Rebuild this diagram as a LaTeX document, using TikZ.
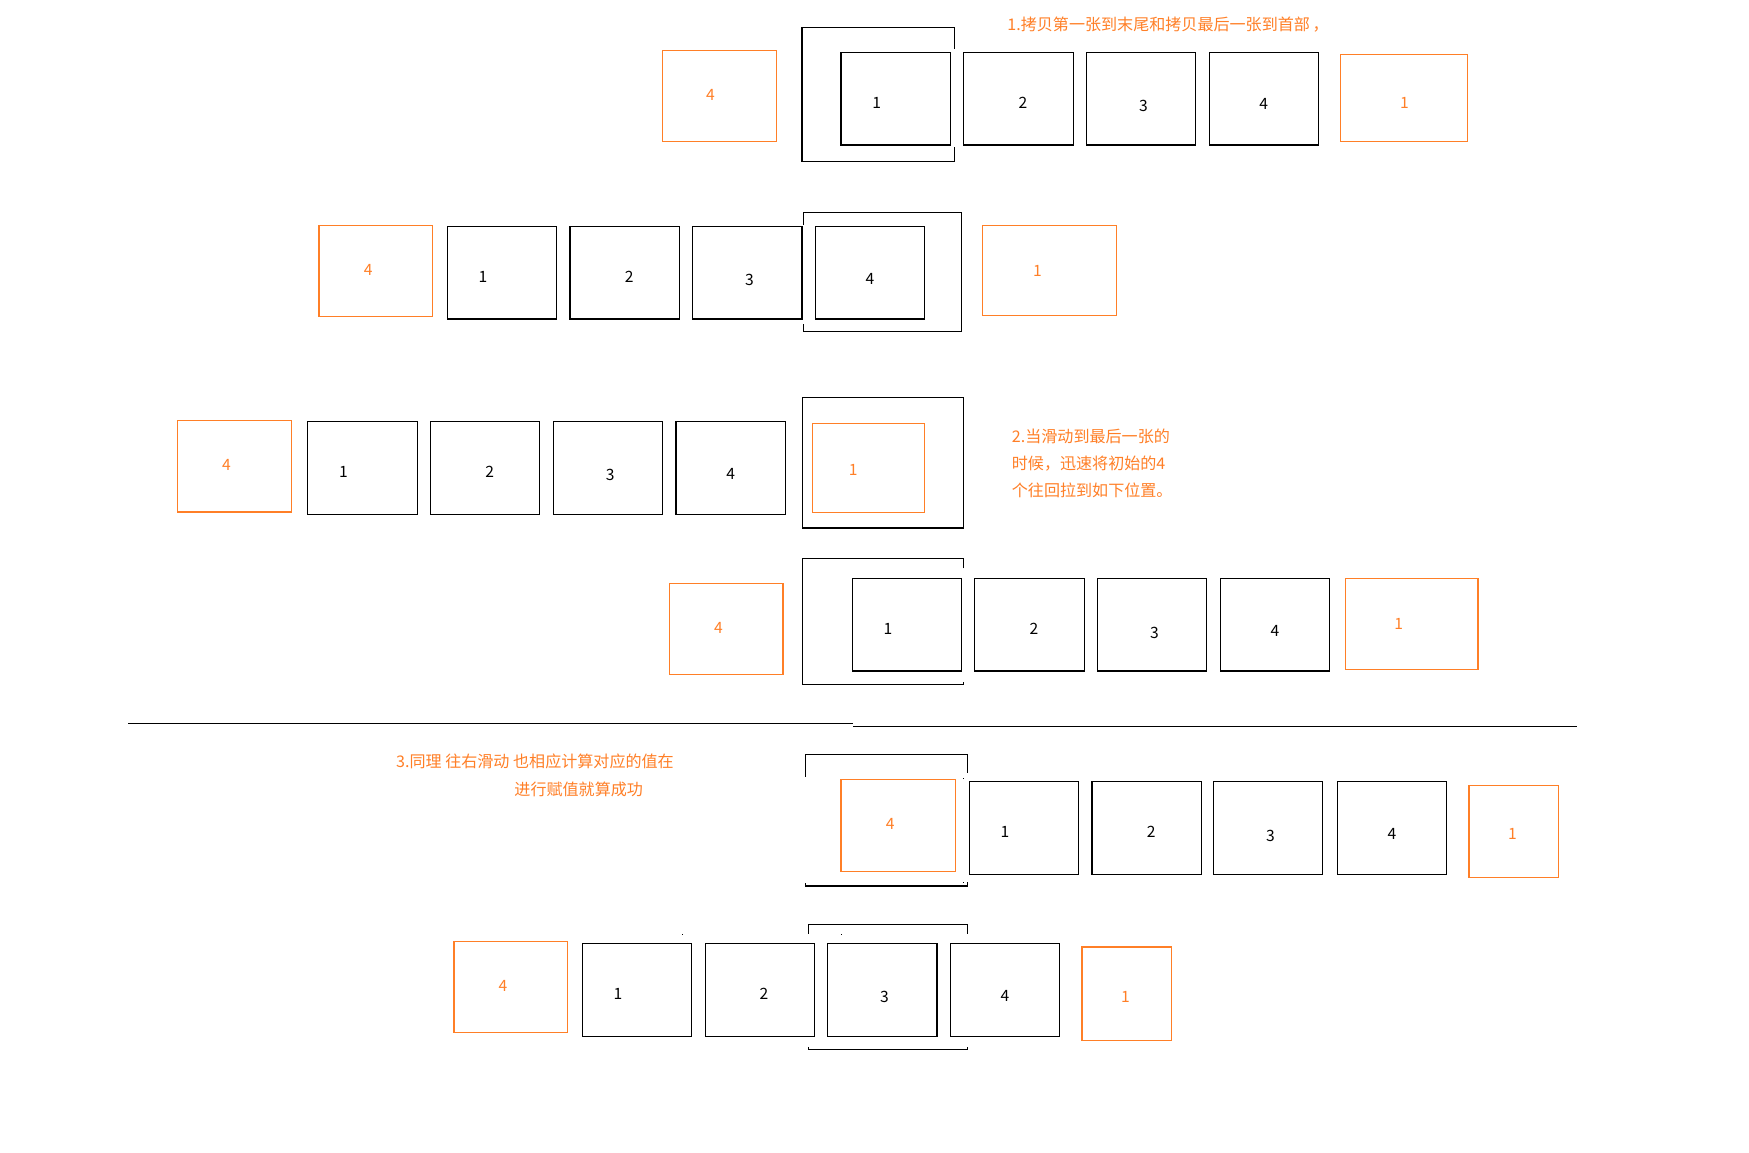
\documentclass[tikz,border=0pt]{standalone}
\usepackage{fontspec}
\setmainfont{Noto Sans CJK SC}
\definecolor{org}{HTML}{FF7F27}
\tikzset{
  x=1pt, y=-1pt,
  boxbase/.style={draw, rectangle, inner sep=0pt, outer sep=0pt, line width=1pt},
  blk/.style={boxbase, draw=black},
  orb/.style={boxbase, draw=org},
  lblk/.style={inner sep=0pt, font=\fontsize{14}{14}\selectfont, text=black},
  lorg/.style={inner sep=0pt, font=\fontsize{14}{14}\selectfont, text=org},
  note/.style={inner sep=0pt, anchor=west, font=\fontsize{14.4}{15}\selectfont, text=org},
  frame/.style={draw=black, line width=1pt},
  sep/.style={draw=black, line width=1pt}
}
\newcommand\mybox[6]{\node[#2, minimum width={(#5-#3)*1pt}, minimum height={(#6-#4)*1pt}] (#1) at ({(#3+#5)/2},{(#4+#6)/2}) {};}
\begin{document}
\begin{tikzpicture}
\useasboundingbox (0,0) rectangle (1568,1033);
\fill[white] (0,0) rectangle (1568,1033);

% ---------- Row 1 ----------
\mybox{aO4}{orb}{594}{45}{696}{127}
\node[lorg] (aO4t) at (637,85) {4};
\draw[frame] (855.5,44) -- (855.5,24.5) -- (719,24.5) -- (719,145) -- (855.5,145) -- (855.5,131.5);
\mybox{aB1}{blk}{754}{47}{852}{130}
\node[lblk] (aB1t) at (786,92) {1};
\mybox{aB2}{blk}{864}{47}{962}{130}
\node[lblk] (aB2t) at (917,92) {2};
\mybox{aB3}{blk}{974}{47}{1072}{130}
\node[lblk] (aB3t) at (1025,95) {3};
\mybox{aB4}{blk}{1084}{47}{1182}{130}
\node[lblk] (aB4t) at (1133,93) {4};
\mybox{aO1}{orb}{1202}{49}{1316}{127}
\node[lorg] (aO1t) at (1259,92) {1};
\node[note] (t1) at (903,22) {1.拷贝第一张到末尾和拷贝最后一张到首部\,，};

% ---------- Row 2 ----------
\mybox{bO4}{orb}{286}{202}{388}{284}
\node[lorg] (bO4t) at (330,242) {4};
\mybox{bB1}{blk}{401}{203}{499}{286}
\node[lblk] (bB1t) at (433,248) {1};
\mybox{bB2}{blk}{511}{203}{609}{286}
\node[lblk] (bB2t) at (564,248) {2};
\mybox{bB3}{blk}{621}{203}{719}{286}
\node[lblk] (bB3t) at (672,251) {3};
\mybox{bB4}{blk}{731}{203}{829}{286}
\node[lblk] (bB4t) at (780,250) {4};
\draw[frame] (720.5,201.5) -- (720.5,190.7) -- (862,190.7) -- (862,297) -- (720.5,297) -- (720.5,290.5);
\mybox{bO1}{orb}{881}{202}{1001}{283}
\node[lorg] (bO1t) at (930,243) {1};

% ---------- Row 3 ----------
\mybox{cO4}{orb}{159}{377}{261}{459}
\node[lorg] (cO4t) at (203,417) {4};
\mybox{cB1}{blk}{276}{378}{374}{461}
\node[lblk] (cB1t) at (308,423) {1};
\mybox{cB2}{blk}{386}{378}{484}{461}
\node[lblk] (cB2t) at (439,423) {2};
\mybox{cB3}{blk}{496}{378}{594}{461}
\node[lblk] (cB3t) at (547,426) {3};
\mybox{cB4}{blk}{606}{378}{704}{461}
\node[lblk] (cB4t) at (655,425) {4};
\draw[frame] (719.3,356.2) rectangle (863.7,473.4);
\mybox{cO1}{orb}{728.3}{379.5}{828.7}{459.3}
\node[lorg] (cO1t) at (765,421) {1};
\node[note] (t2a) at (907,391.5) {2.当滑动到最后一张的};
\node[note] (t2b) at (907,415.4) {时候，迅速将初始的4};
\node[note] (t2c) at (907,439.3) {个往回拉到如下位置。};

% ---------- Row 4 ----------
\mybox{dO4}{orb}{600}{523}{702}{605}
\node[lorg] (dO4t) at (644,563) {4};
\draw[frame] (864,509.5) -- (864,501) -- (719.3,501) -- (719.3,614) -- (864,614) -- (864,611);
\mybox{dB1}{blk}{764.2}{518.8}{862.2}{601.6}
\node[lblk] (dB1t) at (796,564) {1};
\mybox{dB2}{blk}{874}{518.8}{972}{601.6}
\node[lblk] (dB2t) at (927,564) {2};
\mybox{dB3}{blk}{984}{518.8}{1082}{601.6}
\node[lblk] (dB3t) at (1035,567) {3};
\mybox{dB4}{blk}{1094}{518.8}{1192}{601.6}
\node[lblk] (dB4t) at (1143,566) {4};
\mybox{dO1}{orb}{1206}{519}{1325}{600}
\node[lorg] (dO1t) at (1254,559) {1};

% ---------- separator ----------
\coordinate (s1) at (115,649);
\coordinate (s2) at (765,649);
\coordinate (s3) at (765,651);
\coordinate (s4) at (1414,651);
\draw[sep] (s1) -- (s2);
\draw[sep] (s3) -- (s4);

% ---------- Row 5 ----------
\node[note] (t3a) at (355,683) {3.同理 往右滑动 也相应计算对应的值在};
\node[note] (t3b) at (461,707.5) {进行赋值就算成功};
\draw[frame] (722,696.3) -- (722,676.8) -- (867.3,676.8) -- (867.3,693.3);
\draw[frame] (722,792) -- (722,794.3) -- (867.3,794.3) -- (867.3,790.5);
\fill (863.2,697.3) rectangle (864.2,698.3);
\fill (863.2,790.5) rectangle (864.2,791.5);
\mybox{eO4}{orb}{754}{698.7}{856.8}{781.2}
\node[lorg] (eO4t) at (798,739) {4};
\mybox{eB1}{blk}{869}{701}{967}{784}
\node[lblk] (eB1t) at (901,746) {1};
\mybox{eB2}{blk}{979}{701}{1077}{784}
\node[lblk] (eB2t) at (1032,746) {2};
\mybox{eB3}{blk}{1088}{701}{1186}{784}
\node[lblk] (eB3t) at (1139,749) {3};
\mybox{eB4}{blk}{1199}{701}{1297}{784}
\node[lblk] (eB4t) at (1248,748) {4};
\mybox{eO1}{orb}{1317}{704}{1397}{787}
\node[lorg] (eO1t) at (1356,748) {1};

% ---------- Row 6 ----------
\mybox{fO4}{orb}{407}{844}{509}{926}
\node[lorg] (fO4t) at (451,884) {4};
\mybox{fB1}{blk}{522}{845.8}{620}{929}
\node[lblk] (fB1t) at (554,891) {1};
\mybox{fB2}{blk}{632.3}{845.8}{730.1}{929}
\node[lblk] (fB2t) at (685,891) {2};
\mybox{fB3}{blk}{742}{845.8}{840}{929}
\node[lblk] (fB3t) at (793,894) {3};
\mybox{fB4}{blk}{852}{845.8}{950}{929}
\node[lblk] (fB4t) at (901,893) {4};
\mybox{fO1}{orb}{970}{849}{1050}{933}
\node[lorg] (fO1t) at (1009,894) {1};
\draw[frame] (724.7,837) -- (724.7,829) -- (867.3,829) -- (867.3,837);
\draw[frame] (724.7,938.5) -- (724.7,940.5) -- (867.3,940.5) -- (867.3,938.5);
\fill (611.2,836.9) rectangle (612.2,837.9);
\fill (753.8,836.9) rectangle (754.8,837.9);
\end{tikzpicture}
\end{document}
